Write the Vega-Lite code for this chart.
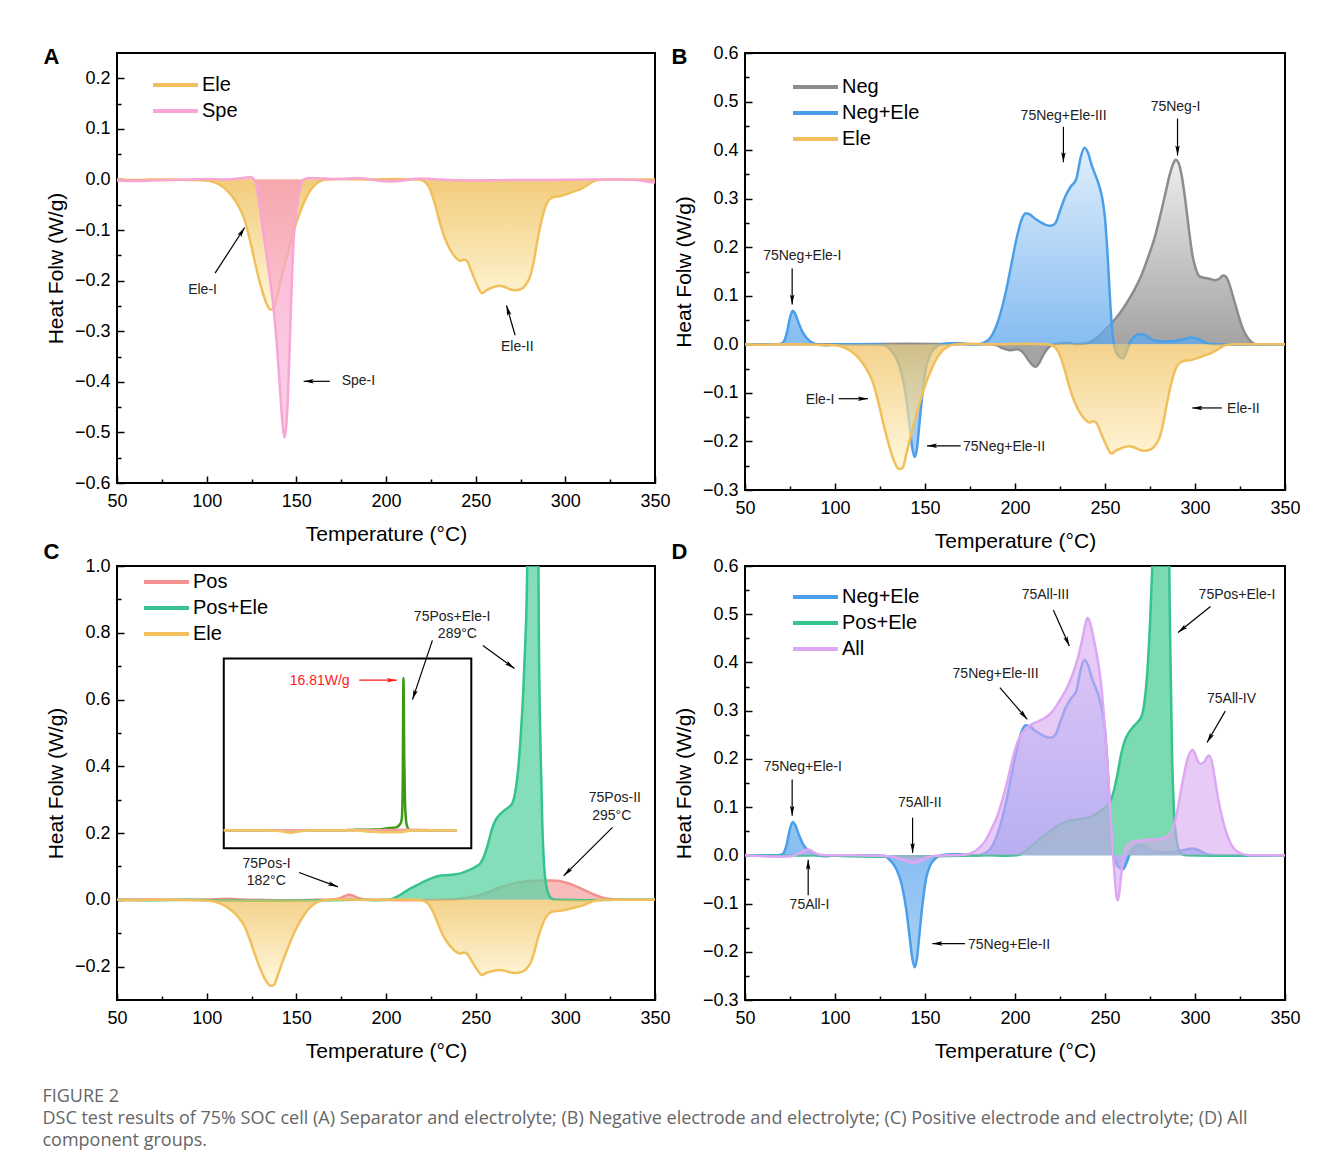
{
"$schema": "https://vega.github.io/schema/vega-lite/v6.json",
"background": "white",
"padding": {"left": 42, "top": 43, "right": 10, "bottom": 10},
"config": {
  "view": {"stroke": "black", "strokeWidth": 2},
  "font": "Liberation Sans",
  "axis": {"labelFont": "Liberation Sans", "titleFont": "Liberation Sans", "labelFontSize": 18, "titleFontSize": 21, "labelColor": "black", "titleColor": "black", "titleFontWeight": "normal", "tickColor": "black", "tickWidth": 1.5, "domain": false, "grid": false, "labelFlush": false, "labelOverlap": false},
  "legend": {"title": null, "orient": "none", "symbolType": "M-1,0L4,0", "symbolSize": 324, "symbolStrokeWidth": 4, "labelFont": "Liberation Sans", "labelFontSize": 20, "labelColor": "black", "rowPadding": 5, "labelOffset": 29, "padding": 0}
},
"title": {"text": ["FIGURE 2", "DSC test results of 75% SOC cell (A) Separator and electrolyte; (B) Negative electrode and electrolyte; (C) Positive electrode and electrolyte; (D) All", "component groups."], "orient": "bottom", "anchor": "start", "frame": "bounds", "font": "Open Sans", "fontSize": 18, "fontWeight": "normal", "color": "#666666", "lineHeight": 22, "offset": 26},
"datasets": {
"dsc": [
{"s":"Ele","T":50,"HF":0},{"s":"Ele","T":60,"HF":-0.001},{"s":"Ele","T":70,"HF":0},{"s":"Ele","T":80,"HF":0},{"s":"Ele","T":90,"HF":-0.001},{"s":"Ele","T":100,"HF":-0.002},{"s":"Ele","T":104,"HF":-0.005},{"s":"Ele","T":108,"HF":-0.012},{"s":"Ele","T":112,"HF":-0.024},{"s":"Ele","T":115,"HF":-0.037},{"s":"Ele","T":118,"HF":-0.054},{"s":"Ele","T":121,"HF":-0.078},{"s":"Ele","T":124,"HF":-0.118},{"s":"Ele","T":127,"HF":-0.165},{"s":"Ele","T":130,"HF":-0.208},{"s":"Ele","T":133,"HF":-0.242},{"s":"Ele","T":135.5,"HF":-0.257},{"s":"Ele","T":137.5,"HF":-0.255},{"s":"Ele","T":139.5,"HF":-0.228},{"s":"Ele","T":142,"HF":-0.19},{"s":"Ele","T":145,"HF":-0.148},{"s":"Ele","T":148,"HF":-0.108},{"s":"Ele","T":151,"HF":-0.075},{"s":"Ele","T":154,"HF":-0.048},{"s":"Ele","T":157,"HF":-0.026},{"s":"Ele","T":160,"HF":-0.012},{"s":"Ele","T":163,"HF":-0.004},{"s":"Ele","T":167,"HF":0},{"s":"Ele","T":175,"HF":0.001},{"s":"Ele","T":190,"HF":0},{"s":"Ele","T":205,"HF":0.001},{"s":"Ele","T":218,"HF":0},{"s":"Ele","T":221,"HF":-0.003},{"s":"Ele","T":224,"HF":-0.015},{"s":"Ele","T":227,"HF":-0.045},{"s":"Ele","T":230,"HF":-0.085},{"s":"Ele","T":233,"HF":-0.118},{"s":"Ele","T":236,"HF":-0.14},{"s":"Ele","T":239,"HF":-0.155},{"s":"Ele","T":241.5,"HF":-0.161},{"s":"Ele","T":243.5,"HF":-0.158},{"s":"Ele","T":245.5,"HF":-0.163},{"s":"Ele","T":248,"HF":-0.185},{"s":"Ele","T":251,"HF":-0.21},{"s":"Ele","T":253.5,"HF":-0.225},{"s":"Ele","T":256,"HF":-0.219},{"s":"Ele","T":259,"HF":-0.214},{"s":"Ele","T":263,"HF":-0.21},{"s":"Ele","T":266,"HF":-0.212},{"s":"Ele","T":269,"HF":-0.217},{"s":"Ele","T":272,"HF":-0.219},{"s":"Ele","T":275,"HF":-0.217},{"s":"Ele","T":278,"HF":-0.208},{"s":"Ele","T":280.5,"HF":-0.19},{"s":"Ele","T":282.5,"HF":-0.16},{"s":"Ele","T":284.5,"HF":-0.12},{"s":"Ele","T":286.5,"HF":-0.085},{"s":"Ele","T":288.5,"HF":-0.058},{"s":"Ele","T":291,"HF":-0.04},{"s":"Ele","T":294,"HF":-0.034},{"s":"Ele","T":297,"HF":-0.033},{"s":"Ele","T":300,"HF":-0.03},{"s":"Ele","T":303,"HF":-0.026},{"s":"Ele","T":306,"HF":-0.022},{"s":"Ele","T":309,"HF":-0.018},{"s":"Ele","T":312,"HF":-0.012},{"s":"Ele","T":315,"HF":-0.005},{"s":"Ele","T":318,"HF":-0.001},{"s":"Ele","T":322,"HF":0},{"s":"Ele","T":335,"HF":0},{"s":"Ele","T":350,"HF":0},
{"s":"Spe","T":50,"HF":-0.002},{"s":"Spe","T":60,"HF":-0.003},{"s":"Spe","T":70,"HF":-0.002},{"s":"Spe","T":80,"HF":-0.001},{"s":"Spe","T":90,"HF":0},{"s":"Spe","T":100,"HF":0.001},{"s":"Spe","T":110,"HF":0},{"s":"Spe","T":118,"HF":0.002},{"s":"Spe","T":122,"HF":0.004},{"s":"Spe","T":124.5,"HF":0.005},{"s":"Spe","T":126,"HF":0.002},{"s":"Spe","T":127.5,"HF":-0.01},{"s":"Spe","T":129,"HF":-0.04},{"s":"Spe","T":131,"HF":-0.09},{"s":"Spe","T":133,"HF":-0.14},{"s":"Spe","T":135,"HF":-0.19},{"s":"Spe","T":137,"HF":-0.245},{"s":"Spe","T":139,"HF":-0.32},{"s":"Spe","T":141,"HF":-0.42},{"s":"Spe","T":142.5,"HF":-0.49},{"s":"Spe","T":143.4,"HF":-0.51},{"s":"Spe","T":144.3,"HF":-0.49},{"s":"Spe","T":145.3,"HF":-0.43},{"s":"Spe","T":146.3,"HF":-0.33},{"s":"Spe","T":147.3,"HF":-0.22},{"s":"Spe","T":148.5,"HF":-0.12},{"s":"Spe","T":150,"HF":-0.06},{"s":"Spe","T":152,"HF":-0.02},{"s":"Spe","T":154,"HF":0},{"s":"Spe","T":157,"HF":0.003},{"s":"Spe","T":165,"HF":0.002},{"s":"Spe","T":175,"HF":0.001},{"s":"Spe","T":183,"HF":0.003},{"s":"Spe","T":188,"HF":0.002},{"s":"Spe","T":195,"HF":-0.002},{"s":"Spe","T":202,"HF":-0.004},{"s":"Spe","T":210,"HF":-0.002},{"s":"Spe","T":218,"HF":0.002},{"s":"Spe","T":225,"HF":0.001},{"s":"Spe","T":235,"HF":-0.001},{"s":"Spe","T":250,"HF":-0.002},{"s":"Spe","T":270,"HF":-0.001},{"s":"Spe","T":290,"HF":-0.001},{"s":"Spe","T":310,"HF":0},{"s":"Spe","T":330,"HF":0},{"s":"Spe","T":340,"HF":-0.001},{"s":"Spe","T":345,"HF":-0.004},{"s":"Spe","T":350,"HF":-0.006},
{"s":"Neg","T":50,"HF":0},{"s":"Neg","T":80,"HF":0},{"s":"Neg","T":110,"HF":0},{"s":"Neg","T":140,"HF":0.001},{"s":"Neg","T":170,"HF":0},{"s":"Neg","T":185,"HF":0},{"s":"Neg","T":190,"HF":-0.002},{"s":"Neg","T":193,"HF":-0.008},{"s":"Neg","T":197,"HF":-0.012},{"s":"Neg","T":201,"HF":-0.01},{"s":"Neg","T":204,"HF":-0.015},{"s":"Neg","T":207,"HF":-0.03},{"s":"Neg","T":209.5,"HF":-0.042},{"s":"Neg","T":211.5,"HF":-0.046},{"s":"Neg","T":213.5,"HF":-0.038},{"s":"Neg","T":216,"HF":-0.02},{"s":"Neg","T":219,"HF":-0.005},{"s":"Neg","T":222,"HF":0},{"s":"Neg","T":226,"HF":0.002},{"s":"Neg","T":230,"HF":0.003},{"s":"Neg","T":234,"HF":0},{"s":"Neg","T":238,"HF":0.001},{"s":"Neg","T":242,"HF":0.005},{"s":"Neg","T":246,"HF":0.015},{"s":"Neg","T":250,"HF":0.03},{"s":"Neg","T":254,"HF":0.045},{"s":"Neg","T":258,"HF":0.063},{"s":"Neg","T":262,"HF":0.085},{"s":"Neg","T":266,"HF":0.11},{"s":"Neg","T":270,"HF":0.14},{"s":"Neg","T":274,"HF":0.18},{"s":"Neg","T":278,"HF":0.225},{"s":"Neg","T":281,"HF":0.27},{"s":"Neg","T":283.5,"HF":0.31},{"s":"Neg","T":286,"HF":0.35},{"s":"Neg","T":288,"HF":0.373},{"s":"Neg","T":289.3,"HF":0.38},{"s":"Neg","T":290.7,"HF":0.375},{"s":"Neg","T":292.5,"HF":0.35},{"s":"Neg","T":294.5,"HF":0.3},{"s":"Neg","T":296.5,"HF":0.24},{"s":"Neg","T":298.5,"HF":0.185},{"s":"Neg","T":300.5,"HF":0.155},{"s":"Neg","T":302.5,"HF":0.14},{"s":"Neg","T":305,"HF":0.137},{"s":"Neg","T":308,"HF":0.135},{"s":"Neg","T":311,"HF":0.132},{"s":"Neg","T":313.5,"HF":0.135},{"s":"Neg","T":315.5,"HF":0.142},{"s":"Neg","T":317,"HF":0.14},{"s":"Neg","T":319,"HF":0.125},{"s":"Neg","T":321,"HF":0.1},{"s":"Neg","T":323.5,"HF":0.068},{"s":"Neg","T":326,"HF":0.038},{"s":"Neg","T":328.5,"HF":0.018},{"s":"Neg","T":331,"HF":0.006},{"s":"Neg","T":334,"HF":0},{"s":"Neg","T":350,"HF":0},
{"s":"Neg+Ele","T":50,"HF":0},{"s":"Neg+Ele","T":60,"HF":0},{"s":"Neg+Ele","T":68,"HF":0},{"s":"Neg+Ele","T":71,"HF":0.003},{"s":"Neg+Ele","T":73,"HF":0.02},{"s":"Neg+Ele","T":75,"HF":0.055},{"s":"Neg+Ele","T":76.5,"HF":0.069},{"s":"Neg+Ele","T":78,"HF":0.062},{"s":"Neg+Ele","T":80,"HF":0.042},{"s":"Neg+Ele","T":82,"HF":0.025},{"s":"Neg+Ele","T":84.5,"HF":0.012},{"s":"Neg+Ele","T":87,"HF":0.004},{"s":"Neg+Ele","T":90,"HF":0},{"s":"Neg+Ele","T":95,"HF":-0.002},{"s":"Neg+Ele","T":100,"HF":0},{"s":"Neg+Ele","T":110,"HF":0},{"s":"Neg+Ele","T":120,"HF":0},{"s":"Neg+Ele","T":127,"HF":-0.001},{"s":"Neg+Ele","T":130.5,"HF":-0.01},{"s":"Neg+Ele","T":134,"HF":-0.028},{"s":"Neg+Ele","T":137,"HF":-0.06},{"s":"Neg+Ele","T":139.5,"HF":-0.11},{"s":"Neg+Ele","T":141.5,"HF":-0.17},{"s":"Neg+Ele","T":143,"HF":-0.215},{"s":"Neg+Ele","T":144.3,"HF":-0.232},{"s":"Neg+Ele","T":145.5,"HF":-0.215},{"s":"Neg+Ele","T":147,"HF":-0.16},{"s":"Neg+Ele","T":148.5,"HF":-0.105},{"s":"Neg+Ele","T":150.5,"HF":-0.05},{"s":"Neg+Ele","T":153,"HF":-0.02},{"s":"Neg+Ele","T":156,"HF":-0.006},{"s":"Neg+Ele","T":159,"HF":0},{"s":"Neg+Ele","T":165,"HF":0.002},{"s":"Neg+Ele","T":170,"HF":0.002},{"s":"Neg+Ele","T":175,"HF":0},{"s":"Neg+Ele","T":180,"HF":0},{"s":"Neg+Ele","T":183,"HF":0.004},{"s":"Neg+Ele","T":186,"HF":0.012},{"s":"Neg+Ele","T":189,"HF":0.032},{"s":"Neg+Ele","T":192,"HF":0.065},{"s":"Neg+Ele","T":195,"HF":0.11},{"s":"Neg+Ele","T":198,"HF":0.165},{"s":"Neg+Ele","T":201,"HF":0.22},{"s":"Neg+Ele","T":203.5,"HF":0.255},{"s":"Neg+Ele","T":206,"HF":0.27},{"s":"Neg+Ele","T":208.5,"HF":0.267},{"s":"Neg+Ele","T":211,"HF":0.259},{"s":"Neg+Ele","T":214,"HF":0.252},{"s":"Neg+Ele","T":217,"HF":0.246},{"s":"Neg+Ele","T":220,"HF":0.244},{"s":"Neg+Ele","T":222.5,"HF":0.25},{"s":"Neg+Ele","T":225,"HF":0.275},{"s":"Neg+Ele","T":228,"HF":0.305},{"s":"Neg+Ele","T":231,"HF":0.325},{"s":"Neg+Ele","T":234,"HF":0.34},{"s":"Neg+Ele","T":236.5,"HF":0.385},{"s":"Neg+Ele","T":238.5,"HF":0.405},{"s":"Neg+Ele","T":240.5,"HF":0.395},{"s":"Neg+Ele","T":242.5,"HF":0.37},{"s":"Neg+Ele","T":244.5,"HF":0.35},{"s":"Neg+Ele","T":246.5,"HF":0.33},{"s":"Neg+Ele","T":248.5,"HF":0.3},{"s":"Neg+Ele","T":250,"HF":0.26},{"s":"Neg+Ele","T":251.5,"HF":0.18},{"s":"Neg+Ele","T":253,"HF":0.08},{"s":"Neg+Ele","T":254.5,"HF":0.01},{"s":"Neg+Ele","T":256,"HF":-0.015},{"s":"Neg+Ele","T":258,"HF":-0.026},{"s":"Neg+Ele","T":260,"HF":-0.029},{"s":"Neg+Ele","T":262,"HF":-0.015},{"s":"Neg+Ele","T":264,"HF":0.005},{"s":"Neg+Ele","T":266,"HF":0.015},{"s":"Neg+Ele","T":269,"HF":0.021},{"s":"Neg+Ele","T":272,"HF":0.02},{"s":"Neg+Ele","T":275,"HF":0.012},{"s":"Neg+Ele","T":279,"HF":0.007},{"s":"Neg+Ele","T":284,"HF":0.006},{"s":"Neg+Ele","T":289,"HF":0.007},{"s":"Neg+Ele","T":294,"HF":0.011},{"s":"Neg+Ele","T":298,"HF":0.014},{"s":"Neg+Ele","T":301,"HF":0.012},{"s":"Neg+Ele","T":304,"HF":0.007},{"s":"Neg+Ele","T":307,"HF":0.002},{"s":"Neg+Ele","T":311,"HF":0},{"s":"Neg+Ele","T":320,"HF":-0.001},{"s":"Neg+Ele","T":350,"HF":0},
{"s":"Pos+Ele","T":50,"HF":0},{"s":"Pos+Ele","T":70,"HF":-0.001},{"s":"Pos+Ele","T":90,"HF":0},{"s":"Pos+Ele","T":110,"HF":-0.002},{"s":"Pos+Ele","T":130,"HF":-0.003},{"s":"Pos+Ele","T":150,"HF":-0.002},{"s":"Pos+Ele","T":170,"HF":-0.001},{"s":"Pos+Ele","T":185,"HF":0},{"s":"Pos+Ele","T":195,"HF":-0.001},{"s":"Pos+Ele","T":201,"HF":0},{"s":"Pos+Ele","T":204,"HF":0.004},{"s":"Pos+Ele","T":207,"HF":0.012},{"s":"Pos+Ele","T":210,"HF":0.022},{"s":"Pos+Ele","T":214,"HF":0.035},{"s":"Pos+Ele","T":218,"HF":0.046},{"s":"Pos+Ele","T":222,"HF":0.057},{"s":"Pos+Ele","T":226,"HF":0.066},{"s":"Pos+Ele","T":230,"HF":0.072},{"s":"Pos+Ele","T":234,"HF":0.074},{"s":"Pos+Ele","T":238,"HF":0.076},{"s":"Pos+Ele","T":242,"HF":0.08},{"s":"Pos+Ele","T":246,"HF":0.088},{"s":"Pos+Ele","T":250,"HF":0.099},{"s":"Pos+Ele","T":253,"HF":0.112},{"s":"Pos+Ele","T":255,"HF":0.135},{"s":"Pos+Ele","T":257,"HF":0.17},{"s":"Pos+Ele","T":259,"HF":0.21},{"s":"Pos+Ele","T":261,"HF":0.238},{"s":"Pos+Ele","T":263.5,"HF":0.256},{"s":"Pos+Ele","T":266,"HF":0.268},{"s":"Pos+Ele","T":268.5,"HF":0.278},{"s":"Pos+Ele","T":270.5,"HF":0.29},{"s":"Pos+Ele","T":272,"HF":0.32},{"s":"Pos+Ele","T":273.5,"HF":0.38},{"s":"Pos+Ele","T":275,"HF":0.48},{"s":"Pos+Ele","T":276.5,"HF":0.62},{"s":"Pos+Ele","T":277.5,"HF":0.75},{"s":"Pos+Ele","T":278.5,"HF":0.92},{"s":"Pos+Ele","T":279.5,"HF":1.4},{"s":"Pos+Ele","T":280.5,"HF":4.5},{"s":"Pos+Ele","T":281.5,"HF":16.81},{"s":"Pos+Ele","T":282.5,"HF":8},{"s":"Pos+Ele","T":283.5,"HF":3},{"s":"Pos+Ele","T":284.5,"HF":1.4},{"s":"Pos+Ele","T":285.3,"HF":0.75},{"s":"Pos+Ele","T":286.2,"HF":0.45},{"s":"Pos+Ele","T":287.2,"HF":0.22},{"s":"Pos+Ele","T":288.2,"HF":0.1},{"s":"Pos+Ele","T":289.5,"HF":0.04},{"s":"Pos+Ele","T":291,"HF":0.012},{"s":"Pos+Ele","T":293,"HF":0.002},{"s":"Pos+Ele","T":296,"HF":0},{"s":"Pos+Ele","T":310,"HF":-0.001},{"s":"Pos+Ele","T":330,"HF":0},{"s":"Pos+Ele","T":350,"HF":0},
{"s":"Pos","T":50,"HF":0},{"s":"Pos","T":70,"HF":0.001},{"s":"Pos","T":90,"HF":0},{"s":"Pos","T":105,"HF":0.002},{"s":"Pos","T":112,"HF":0.003},{"s":"Pos","T":120,"HF":0.001},{"s":"Pos","T":130,"HF":0},{"s":"Pos","T":145,"HF":-0.001},{"s":"Pos","T":160,"HF":0},{"s":"Pos","T":170,"HF":0.001},{"s":"Pos","T":174,"HF":0.005},{"s":"Pos","T":177,"HF":0.011},{"s":"Pos","T":179.5,"HF":0.015},{"s":"Pos","T":182,"HF":0.012},{"s":"Pos","T":185,"HF":0.005},{"s":"Pos","T":188,"HF":0.001},{"s":"Pos","T":195,"HF":0},{"s":"Pos","T":210,"HF":-0.001},{"s":"Pos","T":225,"HF":0},{"s":"Pos","T":235,"HF":0.001},{"s":"Pos","T":242,"HF":0.004},{"s":"Pos","T":247,"HF":0.008},{"s":"Pos","T":252,"HF":0.014},{"s":"Pos","T":257,"HF":0.023},{"s":"Pos","T":262,"HF":0.034},{"s":"Pos","T":267,"HF":0.043},{"s":"Pos","T":272,"HF":0.05},{"s":"Pos","T":277,"HF":0.055},{"s":"Pos","T":282,"HF":0.057},{"s":"Pos","T":287,"HF":0.058},{"s":"Pos","T":292,"HF":0.058},{"s":"Pos","T":296,"HF":0.057},{"s":"Pos","T":300,"HF":0.052},{"s":"Pos","T":304,"HF":0.045},{"s":"Pos","T":308,"HF":0.036},{"s":"Pos","T":312,"HF":0.026},{"s":"Pos","T":316,"HF":0.016},{"s":"Pos","T":320,"HF":0.008},{"s":"Pos","T":324,"HF":0.003},{"s":"Pos","T":328,"HF":0.001},{"s":"Pos","T":335,"HF":0},{"s":"Pos","T":350,"HF":0},
{"s":"All","T":50,"HF":0},{"s":"All","T":60,"HF":-0.002},{"s":"All","T":70,"HF":-0.003},{"s":"All","T":76,"HF":-0.002},{"s":"All","T":80,"HF":0.004},{"s":"All","T":83,"HF":0.01},{"s":"All","T":85,"HF":0.012},{"s":"All","T":87,"HF":0.009},{"s":"All","T":90,"HF":0.003},{"s":"All","T":95,"HF":0},{"s":"All","T":110,"HF":0},{"s":"All","T":125,"HF":-0.001},{"s":"All","T":133,"HF":-0.004},{"s":"All","T":138,"HF":-0.01},{"s":"All","T":142,"HF":-0.015},{"s":"All","T":144,"HF":-0.016},{"s":"All","T":147,"HF":-0.012},{"s":"All","T":151,"HF":-0.005},{"s":"All","T":156,"HF":-0.001},{"s":"All","T":165,"HF":0},{"s":"All","T":172,"HF":0.001},{"s":"All","T":176,"HF":0.005},{"s":"All","T":180,"HF":0.015},{"s":"All","T":183.5,"HF":0.03},{"s":"All","T":187,"HF":0.055},{"s":"All","T":190.5,"HF":0.085},{"s":"All","T":193,"HF":0.115},{"s":"All","T":195.5,"HF":0.15},{"s":"All","T":198,"HF":0.19},{"s":"All","T":200.5,"HF":0.225},{"s":"All","T":203,"HF":0.248},{"s":"All","T":206,"HF":0.262},{"s":"All","T":209,"HF":0.271},{"s":"All","T":213,"HF":0.278},{"s":"All","T":217,"HF":0.286},{"s":"All","T":220,"HF":0.295},{"s":"All","T":223,"HF":0.31},{"s":"All","T":226,"HF":0.328},{"s":"All","T":229,"HF":0.348},{"s":"All","T":232,"HF":0.375},{"s":"All","T":235,"HF":0.41},{"s":"All","T":237.5,"HF":0.45},{"s":"All","T":239.3,"HF":0.482},{"s":"All","T":240.3,"HF":0.492},{"s":"All","T":241.5,"HF":0.485},{"s":"All","T":243,"HF":0.462},{"s":"All","T":245,"HF":0.425},{"s":"All","T":247,"HF":0.38},{"s":"All","T":248.5,"HF":0.33},{"s":"All","T":250,"HF":0.26},{"s":"All","T":251.5,"HF":0.18},{"s":"All","T":253,"HF":0.09},{"s":"All","T":254.5,"HF":0},{"s":"All","T":255.5,"HF":-0.05},{"s":"All","T":256.5,"HF":-0.088},{"s":"All","T":257.2,"HF":-0.093},{"s":"All","T":258,"HF":-0.075},{"s":"All","T":259,"HF":-0.04},{"s":"All","T":260.5,"HF":0},{"s":"All","T":262,"HF":0.018},{"s":"All","T":264,"HF":0.026},{"s":"All","T":268,"HF":0.03},{"s":"All","T":273,"HF":0.032},{"s":"All","T":278,"HF":0.033},{"s":"All","T":282,"HF":0.035},{"s":"All","T":285,"HF":0.04},{"s":"All","T":287.5,"HF":0.052},{"s":"All","T":289.5,"HF":0.08},{"s":"All","T":291.5,"HF":0.12},{"s":"All","T":293.5,"HF":0.16},{"s":"All","T":295.5,"HF":0.195},{"s":"All","T":297.5,"HF":0.215},{"s":"All","T":298.7,"HF":0.219},{"s":"All","T":300,"HF":0.21},{"s":"All","T":301.5,"HF":0.196},{"s":"All","T":303,"HF":0.19},{"s":"All","T":305,"HF":0.193},{"s":"All","T":306.5,"HF":0.203},{"s":"All","T":307.8,"HF":0.207},{"s":"All","T":309.3,"HF":0.195},{"s":"All","T":311,"HF":0.16},{"s":"All","T":313,"HF":0.115},{"s":"All","T":315,"HF":0.08},{"s":"All","T":317,"HF":0.052},{"s":"All","T":319,"HF":0.032},{"s":"All","T":321,"HF":0.017},{"s":"All","T":324,"HF":0.007},{"s":"All","T":327,"HF":0.002},{"s":"All","T":332,"HF":0},{"s":"All","T":350,"HF":0}
],
"ann": [
{"p":"A","t":"Ele-I","T":97.7,"HF":-0.218,"c":"#222222"},{"p":"A","t":"Spe-I","T":184.6,"HF":-0.399,"c":"#222222"},{"p":"A","t":"Ele-II","T":273.2,"HF":-0.331,"c":"#222222"},
{"p":"B","t":"75Neg+Ele-I","T":81.8,"HF":0.182,"c":"#222222"},{"p":"B","t":"75Neg+Ele-III","T":227,"HF":0.471,"c":"#222222"},{"p":"B","t":"75Neg-I","T":289.2,"HF":0.488,"c":"#222222"},{"p":"B","t":"Ele-I","T":91.7,"HF":-0.114,"c":"#222222"},{"p":"B","t":"75Neg+Ele-II","T":193.9,"HF":-0.212,"c":"#222222"},{"p":"B","t":"Ele-II","T":326.9,"HF":-0.133,"c":"#222222"},
{"p":"C","t":"75Pos+Ele-I","T":236.9,"HF":0.848,"c":"#222222"},{"p":"C","t":"289°C","T":239.8,"HF":0.796,"c":"#222222"},{"p":"C","t":"75Pos-II","T":327.6,"HF":0.304,"c":"#222222"},{"p":"C","t":"295°C","T":325.9,"HF":0.252,"c":"#222222"},{"p":"C","t":"75Pos-I","T":133.4,"HF":0.108,"c":"#222222"},{"p":"C","t":"182°C","T":133.2,"HF":0.055,"c":"#222222"},
{"p":"Ci","t":"16.81W/g","T":173.5,"HF":16.52,"c":"#ff1a1a"},
{"p":"D","t":"75Neg+Ele-I","T":82.1,"HF":0.183,"c":"#222222"},{"p":"D","t":"75All-I","T":85.8,"HF":-0.104,"c":"#222222"},{"p":"D","t":"75All-II","T":147.1,"HF":0.109,"c":"#222222"},{"p":"D","t":"75Neg+Ele-II","T":196.7,"HF":-0.186,"c":"#222222"},{"p":"D","t":"75Neg+Ele-III","T":189.2,"HF":0.376,"c":"#222222"},{"p":"D","t":"75All-III","T":216.9,"HF":0.539,"c":"#222222"},{"p":"D","t":"75Pos+Ele-I","T":323.3,"HF":0.539,"c":"#222222"},{"p":"D","t":"75All-IV","T":320.3,"HF":0.325,"c":"#222222"}
],
"arr": [
{"p":"A","T":121.2,"HF":-0.095,"T2":104.7,"HF2":-0.185,"ang":33,"c":"black"},{"p":"A","T":154.1,"HF":-0.399,"T2":168.7,"HF2":-0.399,"ang":-90,"c":"black"},{"p":"A","T":267.2,"HF":-0.249,"T2":272,"HF2":-0.308,"ang":-16,"c":"black"},
{"p":"B","T":76.2,"HF":0.082,"T2":76.2,"HF2":0.156,"ang":180,"c":"black"},{"p":"B","T":226.9,"HF":0.375,"T2":226.9,"HF2":0.448,"ang":180,"c":"black"},{"p":"B","T":290.3,"HF":0.389,"T2":290.3,"HF2":0.465,"ang":180,"c":"black"},{"p":"B","T":118.3,"HF":-0.112,"T2":102,"HF2":-0.112,"ang":90,"c":"black"},{"p":"B","T":151.1,"HF":-0.209,"T2":169.8,"HF2":-0.209,"ang":-90,"c":"black"},{"p":"B","T":298.5,"HF":-0.131,"T2":314.9,"HF2":-0.131,"ang":-90,"c":"black"},
{"p":"C","T":271.6,"HF":0.693,"T2":254,"HF2":0.762,"ang":126,"c":"black"},{"p":"C","T":299.1,"HF":0.072,"T2":326.3,"HF2":0.217,"ang":-135,"c":"black"},{"p":"C","T":173.2,"HF":0.039,"T2":151.5,"HF2":0.082,"ang":110,"c":"black"},
{"p":"Ci","T":272.9,"HF":16.56,"T2":224.5,"HF2":16.56,"ang":90,"c":"#ff1a1a"},{"p":"Ci","T":293.1,"HF":14.42,"T2":318.8,"HF2":20.95,"ang":-161,"c":"black"},
{"p":"D","T":76.2,"HF":0.082,"T2":76.2,"HF2":0.157,"ang":180,"c":"black"},{"p":"D","T":85.1,"HF":-0.009,"T2":85.1,"HF2":-0.083,"ang":0,"c":"black"},{"p":"D","T":143.1,"HF":0.005,"T2":143.1,"HF2":0.078,"ang":180,"c":"black"},{"p":"D","T":154.1,"HF":-0.183,"T2":172.2,"HF2":-0.183,"ang":-90,"c":"black"},{"p":"D","T":206.8,"HF":0.282,"T2":191.6,"HF2":0.348,"ang":139,"c":"black"},{"p":"D","T":230.2,"HF":0.434,"T2":221.3,"HF2":0.509,"ang":156,"c":"black"},{"p":"D","T":290.6,"HF":0.462,"T2":308.6,"HF2":0.516,"ang":-129,"c":"black"},{"p":"D","T":306.7,"HF":0.234,"T2":316.8,"HF2":0.299,"ang":-150,"c":"black"}
],
"box": [{"T":50,"HF":-1.99,"T2":368.9,"HF2":18.96}]
},
"concat": [
{
 "width": 538, "height": 430,
 "title": {"text": "A", "anchor": "start", "frame": "bounds", "fontSize": 22, "fontWeight": "bold", "font": "Liberation Sans", "color": "black", "baseline": "top", "offset": 0, "dx": -2, "dy": 16},
 "resolve": {"scale": {"x": "independent", "y": "independent"}},
 "layer": [
  {
   "encoding": {
    "x": {"field": "T", "type": "quantitative", "scale": {"domain": [50, 350], "nice": false, "zero": false}, "axis": {"title": "Temperature (°C)", "orient": "bottom", "values": [50,100,150,200,250,300,350], "format": "d", "tickSize": -7, "labelPadding": 16, "titlePadding": 13}},
    "y": {"field": "HF", "type": "quantitative", "scale": {"domain": [-0.6, 0.25], "nice": false, "zero": false}, "axis": {"title": "Heat Folw (W/g)", "orient": "left", "values": [-0.6,-0.5,-0.4,-0.3,-0.2,-0.1,0,0.1,0.2], "format": ".1f", "tickSize": -7, "labelPadding": 14, "titlePadding": 8}}
   },
   "layer": [
    {"data": {"name": "dsc"}, "transform": [{"filter": "datum.s === 'Ele'"}], "mark": {"type": "area", "interpolate": "monotone", "fillOpacity": 0.8, "fill": {"gradient": "linear", "x1": 0, "y1": 0, "x2": 0, "y2": 1, "stops": [{"offset": 0, "color": "#efbf5a"}, {"offset": 1, "color": "#fff5cf"}]}}, "encoding": {"y2": {"datum": 0}}},
    {"data": {"name": "dsc"}, "transform": [{"filter": "datum.s === 'Ele'"}], "mark": {"type": "line", "interpolate": "monotone", "strokeWidth": 2.5}, "encoding": {"color": {"field": "s", "type": "nominal", "scale": {"domain": ["Ele", "Spe"], "range": ["#f1c05c", "#f8a6d3"]}, "legend": {"legendX": 34, "legendY": 21}}}},
    {"data": {"name": "dsc"}, "transform": [{"filter": "datum.s === 'Spe'"}], "mark": {"type": "area", "interpolate": "monotone", "fillOpacity": 0.75, "fill": {"gradient": "linear", "x1": 0, "y1": 0, "x2": 0, "y2": 1, "stops": [{"offset": 0, "color": "#f79bbd"}, {"offset": 1, "color": "#fbc3e5"}]}}, "encoding": {"y2": {"datum": 0}}},
    {"data": {"name": "dsc"}, "transform": [{"filter": "datum.s === 'Spe'"}], "mark": {"type": "line", "interpolate": "monotone", "strokeWidth": 2.5}, "encoding": {"color": {"field": "s", "type": "nominal", "scale": {"domain": ["Ele", "Spe"], "range": ["#f1c05c", "#f8a6d3"]}, "legend": {"legendX": 34, "legendY": 21}}}},
    {"data": {"name": "arr"}, "transform": [{"filter": "datum.p === 'A'"}], "mark": {"type": "rule", "strokeWidth": 1.2}, "encoding": {"x2": {"field": "T2"}, "y2": {"field": "HF2"}, "color": {"field": "c", "type": "nominal", "scale": null}}},
    {"data": {"name": "arr"}, "transform": [{"filter": "datum.p === 'A'"}], "mark": {"type": "point", "shape": "M0,0L0.45,2L0,1.6L-0.45,2Z", "filled": true, "size": 100, "opacity": 1}, "encoding": {"angle": {"field": "ang", "type": "quantitative", "scale": null}, "color": {"field": "c", "type": "nominal", "scale": null}}},
    {"data": {"name": "ann"}, "transform": [{"filter": "datum.p === 'A'"}], "mark": {"type": "text", "fontSize": 14, "font": "Liberation Sans"}, "encoding": {"text": {"field": "t", "type": "nominal"}, "color": {"field": "c", "type": "nominal", "scale": null}}}
   ]
  },
  {
   "data": {"name": "dsc"}, "transform": [{"filter": "datum.s === 'Ele'"}],
   "mark": {"type": "point", "opacity": 0},
   "encoding": {
    "x": {"field": "T", "type": "quantitative", "scale": {"domain": [50, 350], "nice": false, "zero": false}, "axis": {"title": null, "orient": "bottom", "values": [75,125,175,225,275,325], "labels": false, "tickSize": -4}},
    "y": {"field": "HF", "type": "quantitative", "scale": {"domain": [-0.6, 0.25], "nice": false, "zero": false}, "axis": {"title": null, "orient": "left", "values": [-0.55,-0.45,-0.35,-0.25,-0.15,-0.05,0.05,0.15], "labels": false, "tickSize": -4}}
   }
  }
 ]
},
{
 "width": 540, "height": 437,
 "title": {"text": "B", "anchor": "start", "frame": "bounds", "fontSize": 22, "fontWeight": "bold", "font": "Liberation Sans", "color": "black", "baseline": "top", "offset": 0, "dx": -2, "dy": 25},
 "resolve": {"scale": {"x": "independent", "y": "independent"}},
 "layer": [
  {
   "encoding": {
    "x": {"field": "T", "type": "quantitative", "scale": {"domain": [50, 350], "nice": false, "zero": false}, "axis": {"title": "Temperature (°C)", "orient": "bottom", "values": [50,100,150,200,250,300,350], "format": "d", "tickSize": -7, "labelPadding": 16, "titlePadding": 13}},
    "y": {"field": "HF", "type": "quantitative", "scale": {"domain": [-0.3, 0.6], "nice": false, "zero": false}, "axis": {"title": "Heat Folw (W/g)", "orient": "left", "values": [-0.3,-0.2,-0.1,0,0.1,0.2,0.3,0.4,0.5,0.6], "format": ".1f", "tickSize": -7, "labelPadding": 14, "titlePadding": 8}}
   },
   "layer": [
    {"data": {"name": "dsc"}, "transform": [{"filter": "datum.s === 'Neg'"}], "mark": {"type": "area", "interpolate": "monotone", "fillOpacity": 0.8, "fill": {"gradient": "linear", "x1": 0, "y1": 0, "x2": 0, "y2": 1, "stops": [{"offset": 0, "color": "#e8e8e8"}, {"offset": 0.88, "color": "#8e8e8e"}, {"offset": 1, "color": "#8e8e8e"}]}}, "encoding": {"y2": {"datum": 0}}},
    {"data": {"name": "dsc"}, "transform": [{"filter": "datum.s === 'Neg'"}], "mark": {"type": "line", "interpolate": "monotone", "strokeWidth": 2.5}, "encoding": {"color": {"field": "s", "type": "nominal", "scale": {"domain": ["Neg", "Neg+Ele", "Ele"], "range": ["#8c8c8c", "#4b9fe9", "#f1c05c"]}, "legend": {"legendX": 46, "legendY": 23}}}},
    {"data": {"name": "dsc"}, "transform": [{"filter": "datum.s === 'Neg+Ele'"}], "mark": {"type": "area", "interpolate": "monotone", "fillOpacity": 0.75, "fill": {"gradient": "linear", "x1": 0, "y1": 0, "x2": 0, "y2": 1, "stops": [{"offset": 0, "color": "#d6e8fb"}, {"offset": 0.63, "color": "#5fa7ed"}, {"offset": 1, "color": "#8fc1f3"}]}}, "encoding": {"y2": {"datum": 0}}},
    {"data": {"name": "dsc"}, "transform": [{"filter": "datum.s === 'Neg+Ele'"}], "mark": {"type": "line", "interpolate": "monotone", "strokeWidth": 2.5}, "encoding": {"color": {"field": "s", "type": "nominal", "scale": {"domain": ["Neg", "Neg+Ele", "Ele"], "range": ["#8c8c8c", "#4b9fe9", "#f1c05c"]}, "legend": {"legendX": 46, "legendY": 23}}}},
    {"data": {"name": "dsc"}, "transform": [{"filter": "datum.s === 'Ele'"}], "mark": {"type": "area", "interpolate": "monotone", "fillOpacity": 0.7, "fill": {"gradient": "linear", "x1": 0, "y1": 0, "x2": 0, "y2": 1, "stops": [{"offset": 0, "color": "#efbf5a"}, {"offset": 1, "color": "#fff5cf"}]}}, "encoding": {"y2": {"datum": 0}}},
    {"data": {"name": "dsc"}, "transform": [{"filter": "datum.s === 'Ele'"}], "mark": {"type": "line", "interpolate": "monotone", "strokeWidth": 2.5}, "encoding": {"color": {"field": "s", "type": "nominal", "scale": {"domain": ["Neg", "Neg+Ele", "Ele"], "range": ["#8c8c8c", "#4b9fe9", "#f1c05c"]}, "legend": {"legendX": 46, "legendY": 23}}}},
    {"data": {"name": "arr"}, "transform": [{"filter": "datum.p === 'B'"}], "mark": {"type": "rule", "strokeWidth": 1.2}, "encoding": {"x2": {"field": "T2"}, "y2": {"field": "HF2"}, "color": {"field": "c", "type": "nominal", "scale": null}}},
    {"data": {"name": "arr"}, "transform": [{"filter": "datum.p === 'B'"}], "mark": {"type": "point", "shape": "M0,0L0.45,2L0,1.6L-0.45,2Z", "filled": true, "size": 100, "opacity": 1}, "encoding": {"angle": {"field": "ang", "type": "quantitative", "scale": null}, "color": {"field": "c", "type": "nominal", "scale": null}}},
    {"data": {"name": "ann"}, "transform": [{"filter": "datum.p === 'B'"}], "mark": {"type": "text", "fontSize": 14, "font": "Liberation Sans"}, "encoding": {"text": {"field": "t", "type": "nominal"}, "color": {"field": "c", "type": "nominal", "scale": null}}}
   ]
  },
  {
   "data": {"name": "dsc"}, "transform": [{"filter": "datum.s === 'Ele'"}],
   "mark": {"type": "point", "opacity": 0},
   "encoding": {
    "x": {"field": "T", "type": "quantitative", "scale": {"domain": [50, 350], "nice": false, "zero": false}, "axis": {"title": null, "orient": "bottom", "values": [75,125,175,225,275,325], "labels": false, "tickSize": -4}},
    "y": {"field": "HF", "type": "quantitative", "scale": {"domain": [-0.3, 0.6], "nice": false, "zero": false}, "axis": {"title": null, "orient": "left", "values": [-0.25,-0.15,-0.05,0.05,0.15,0.25,0.35,0.45,0.55], "labels": false, "tickSize": -4}}
   }
  }
 ]
},
{
 "width": 538, "height": 434,
 "title": {"text": "C", "anchor": "start", "frame": "bounds", "fontSize": 22, "fontWeight": "bold", "font": "Liberation Sans", "color": "black", "baseline": "top", "offset": 0, "dx": -2, "dy": 7},
 "resolve": {"scale": {"x": "independent", "y": "independent"}},
 "layer": [
  {
   "encoding": {
    "x": {"field": "T", "type": "quantitative", "scale": {"domain": [50, 350], "nice": false, "zero": false}, "axis": {"title": "Temperature (°C)", "orient": "bottom", "values": [50,100,150,200,250,300,350], "format": "d", "tickSize": -7, "labelPadding": 16, "titlePadding": 13}},
    "y": {"field": "HF", "type": "quantitative", "scale": {"domain": [-0.3, 1.0], "nice": false, "zero": false}, "axis": {"title": "Heat Folw (W/g)", "orient": "left", "values": [-0.2,0,0.2,0.4,0.6,0.8,1.0], "format": ".1f", "tickSize": -7, "labelPadding": 14, "titlePadding": 8}}
   },
   "layer": [
    {"data": {"name": "dsc"}, "transform": [{"filter": "datum.s === 'Pos'"}], "mark": {"type": "area", "interpolate": "monotone", "clip": true, "fillOpacity": 0.7, "fill": "#f6a0a0"}, "encoding": {"y2": {"datum": 0}}},
    {"data": {"name": "dsc"}, "transform": [{"filter": "datum.s === 'Pos'"}], "mark": {"type": "line", "interpolate": "monotone", "clip": true, "strokeWidth": 2.5}, "encoding": {"color": {"field": "s", "type": "nominal", "scale": {"domain": ["Pos", "Pos+Ele", "Ele"], "range": ["#f39191", "#36c38e", "#f1c05c"]}, "legend": {"legendX": 25, "legendY": 5}}}},
    {"data": {"name": "dsc"}, "transform": [{"filter": "datum.s === 'Pos+Ele'"}], "mark": {"type": "area", "interpolate": "monotone", "clip": true, "fillOpacity": 0.75, "fill": "#5cd3a3"}, "encoding": {"y2": {"datum": 0}}},
    {"data": {"name": "dsc"}, "transform": [{"filter": "datum.s === 'Pos+Ele'"}], "mark": {"type": "line", "interpolate": "monotone", "clip": true, "strokeWidth": 2.5}, "encoding": {"color": {"field": "s", "type": "nominal", "scale": {"domain": ["Pos", "Pos+Ele", "Ele"], "range": ["#f39191", "#36c38e", "#f1c05c"]}, "legend": {"legendX": 25, "legendY": 5}}}},
    {"data": {"name": "dsc"}, "transform": [{"filter": "datum.s === 'Ele'"}], "mark": {"type": "area", "interpolate": "monotone", "clip": true, "fillOpacity": 0.7, "fill": {"gradient": "linear", "x1": 0, "y1": 0, "x2": 0, "y2": 1, "stops": [{"offset": 0, "color": "#efbf5a"}, {"offset": 1, "color": "#fff5cf"}]}}, "encoding": {"y2": {"datum": 0}}},
    {"data": {"name": "dsc"}, "transform": [{"filter": "datum.s === 'Ele'"}], "mark": {"type": "line", "interpolate": "monotone", "clip": true, "strokeWidth": 2.5}, "encoding": {"color": {"field": "s", "type": "nominal", "scale": {"domain": ["Pos", "Pos+Ele", "Ele"], "range": ["#f39191", "#36c38e", "#f1c05c"]}, "legend": {"legendX": 25, "legendY": 5}}}},
    {"data": {"name": "arr"}, "transform": [{"filter": "datum.p === 'C'"}], "mark": {"type": "rule", "strokeWidth": 1.2}, "encoding": {"x2": {"field": "T2"}, "y2": {"field": "HF2"}, "color": {"field": "c", "type": "nominal", "scale": null}}},
    {"data": {"name": "arr"}, "transform": [{"filter": "datum.p === 'C'"}], "mark": {"type": "point", "shape": "M0,0L0.45,2L0,1.6L-0.45,2Z", "filled": true, "size": 100, "opacity": 1}, "encoding": {"angle": {"field": "ang", "type": "quantitative", "scale": null}, "color": {"field": "c", "type": "nominal", "scale": null}}},
    {"data": {"name": "ann"}, "transform": [{"filter": "datum.p === 'C'"}], "mark": {"type": "text", "fontSize": 14, "font": "Liberation Sans"}, "encoding": {"text": {"field": "t", "type": "nominal"}, "color": {"field": "c", "type": "nominal", "scale": null}}}
   ]
  },
  {
   "data": {"name": "dsc"}, "transform": [{"filter": "datum.s === 'Ele'"}],
   "mark": {"type": "point", "opacity": 0},
   "encoding": {
    "x": {"field": "T", "type": "quantitative", "scale": {"domain": [50, 350], "nice": false, "zero": false}, "axis": {"title": null, "orient": "bottom", "values": [75,125,175,225,275,325], "labels": false, "tickSize": -4}},
    "y": {"field": "HF", "type": "quantitative", "scale": {"domain": [-0.3, 1.0], "nice": false, "zero": false}, "axis": {"title": null, "orient": "left", "values": [-0.1,0.1,0.3,0.5,0.7,0.9], "labels": false, "tickSize": -4}}
   }
  },
  {
   "encoding": {
    "x": {"field": "T", "type": "quantitative", "scale": {"domain": [-87.6, 605.6], "nice": false, "zero": false}, "axis": null},
    "y": {"field": "HF", "type": "quantitative", "scale": {"domain": [-18.72, 29.16], "nice": false, "zero": false}, "axis": null}
   },
   "layer": [
    {"data": {"name": "box"}, "mark": {"type": "rect", "fill": "white", "stroke": "black", "strokeWidth": 2}, "encoding": {"x2": {"field": "T2"}, "y2": {"field": "HF2"}}},
    {"data": {"name": "dsc"}, "transform": [{"filter": "datum.s === 'Pos+Ele'"}], "mark": {"type": "line", "interpolate": "monotone", "strokeWidth": 2.5, "color": "#3a9a14"}},
    {"data": {"name": "dsc"}, "transform": [{"filter": "datum.s === 'Pos'"}], "mark": {"type": "line", "interpolate": "monotone", "strokeWidth": 2.5, "color": "#f4a0a0"}},
    {"data": {"name": "dsc"}, "transform": [{"filter": "datum.s === 'Ele'"}], "mark": {"type": "line", "interpolate": "monotone", "strokeWidth": 2.5, "color": "#f2c462"}},
    {"data": {"name": "arr"}, "transform": [{"filter": "datum.p === 'Ci'"}], "mark": {"type": "rule", "strokeWidth": 1.2}, "encoding": {"x2": {"field": "T2"}, "y2": {"field": "HF2"}, "color": {"field": "c", "type": "nominal", "scale": null}}},
    {"data": {"name": "arr"}, "transform": [{"filter": "datum.p === 'Ci'"}], "mark": {"type": "point", "shape": "M0,0L0.45,2L0,1.6L-0.45,2Z", "filled": true, "size": 100, "opacity": 1}, "encoding": {"angle": {"field": "ang", "type": "quantitative", "scale": null}, "color": {"field": "c", "type": "nominal", "scale": null}}},
    {"data": {"name": "ann"}, "transform": [{"filter": "datum.p === 'Ci'"}], "mark": {"type": "text", "fontSize": 14, "font": "Liberation Sans"}, "encoding": {"text": {"field": "t", "type": "nominal"}, "color": {"field": "c", "type": "nominal", "scale": null}}}
   ]
  }
 ]
},
{
 "width": 540, "height": 434,
 "title": {"text": "D", "anchor": "start", "frame": "bounds", "fontSize": 22, "fontWeight": "bold", "font": "Liberation Sans", "color": "black", "baseline": "top", "offset": 0, "dx": -2, "dy": 7},
 "resolve": {"scale": {"x": "independent", "y": "independent"}},
 "layer": [
  {
   "encoding": {
    "x": {"field": "T", "type": "quantitative", "scale": {"domain": [50, 350], "nice": false, "zero": false}, "axis": {"title": "Temperature (°C)", "orient": "bottom", "values": [50,100,150,200,250,300,350], "format": "d", "tickSize": -7, "labelPadding": 16, "titlePadding": 13}},
    "y": {"field": "HF", "type": "quantitative", "scale": {"domain": [-0.3, 0.6], "nice": false, "zero": false}, "axis": {"title": "Heat Folw (W/g)", "orient": "left", "values": [-0.3,-0.2,-0.1,0,0.1,0.2,0.3,0.4,0.5,0.6], "format": ".1f", "tickSize": -7, "labelPadding": 14, "titlePadding": 8}}
   },
   "layer": [
    {"data": {"name": "dsc"}, "transform": [{"filter": "datum.s === 'Neg+Ele'"}], "mark": {"type": "area", "interpolate": "monotone", "clip": true, "fillOpacity": 0.75, "fill": {"gradient": "linear", "x1": 0, "y1": 0, "x2": 0, "y2": 1, "stops": [{"offset": 0, "color": "#d6e8fb"}, {"offset": 0.63, "color": "#5fa7ed"}, {"offset": 1, "color": "#8fc1f3"}]}}, "encoding": {"y2": {"datum": 0}}},
    {"data": {"name": "dsc"}, "transform": [{"filter": "datum.s === 'Neg+Ele'"}], "mark": {"type": "line", "interpolate": "monotone", "clip": true, "strokeWidth": 2.5}, "encoding": {"color": {"field": "s", "type": "nominal", "scale": {"domain": ["Neg+Ele", "Pos+Ele", "All"], "range": ["#4b9fe9", "#36c38e", "#dda8f2"]}, "legend": {"legendX": 46, "legendY": 20}}}},
    {"data": {"name": "dsc"}, "transform": [{"filter": "datum.s === 'Pos+Ele'"}], "mark": {"type": "area", "interpolate": "monotone", "clip": true, "fillOpacity": 0.75, "fill": "#4fcd98"}, "encoding": {"y2": {"datum": 0}}},
    {"data": {"name": "dsc"}, "transform": [{"filter": "datum.s === 'Pos+Ele'"}], "mark": {"type": "line", "interpolate": "monotone", "clip": true, "strokeWidth": 2.5}, "encoding": {"color": {"field": "s", "type": "nominal", "scale": {"domain": ["Neg+Ele", "Pos+Ele", "All"], "range": ["#4b9fe9", "#36c38e", "#dda8f2"]}, "legend": {"legendX": 46, "legendY": 20}}}},
    {"data": {"name": "dsc"}, "transform": [{"filter": "datum.s === 'All'"}], "mark": {"type": "area", "interpolate": "monotone", "clip": true, "fillOpacity": 0.6, "fill": "#d9a6f2"}, "encoding": {"y2": {"datum": 0}}},
    {"data": {"name": "dsc"}, "transform": [{"filter": "datum.s === 'All'"}], "mark": {"type": "line", "interpolate": "monotone", "clip": true, "strokeWidth": 2.5}, "encoding": {"color": {"field": "s", "type": "nominal", "scale": {"domain": ["Neg+Ele", "Pos+Ele", "All"], "range": ["#4b9fe9", "#36c38e", "#dda8f2"]}, "legend": {"legendX": 46, "legendY": 20}}}},
    {"data": {"name": "arr"}, "transform": [{"filter": "datum.p === 'D'"}], "mark": {"type": "rule", "strokeWidth": 1.2}, "encoding": {"x2": {"field": "T2"}, "y2": {"field": "HF2"}, "color": {"field": "c", "type": "nominal", "scale": null}}},
    {"data": {"name": "arr"}, "transform": [{"filter": "datum.p === 'D'"}], "mark": {"type": "point", "shape": "M0,0L0.45,2L0,1.6L-0.45,2Z", "filled": true, "size": 100, "opacity": 1}, "encoding": {"angle": {"field": "ang", "type": "quantitative", "scale": null}, "color": {"field": "c", "type": "nominal", "scale": null}}},
    {"data": {"name": "ann"}, "transform": [{"filter": "datum.p === 'D'"}], "mark": {"type": "text", "fontSize": 14, "font": "Liberation Sans"}, "encoding": {"text": {"field": "t", "type": "nominal"}, "color": {"field": "c", "type": "nominal", "scale": null}}}
   ]
  },
  {
   "data": {"name": "dsc"}, "transform": [{"filter": "datum.s === 'Ele'"}],
   "mark": {"type": "point", "opacity": 0},
   "encoding": {
    "x": {"field": "T", "type": "quantitative", "scale": {"domain": [50, 350], "nice": false, "zero": false}, "axis": {"title": null, "orient": "bottom", "values": [75,125,175,225,275,325], "labels": false, "tickSize": -4}},
    "y": {"field": "HF", "type": "quantitative", "scale": {"domain": [-0.3, 0.6], "nice": false, "zero": false}, "axis": {"title": null, "orient": "left", "values": [-0.25,-0.15,-0.05,0.05,0.15,0.25,0.35,0.45,0.55], "labels": false, "tickSize": -4}}
   }
  }
 ]
}
],
"columns": 2,
"spacing": {"row": 76, "column": 90},
"bounds": "flush",
"resolve": {"scale": {"color": "independent"}, "legend": {"color": "independent"}}
}
